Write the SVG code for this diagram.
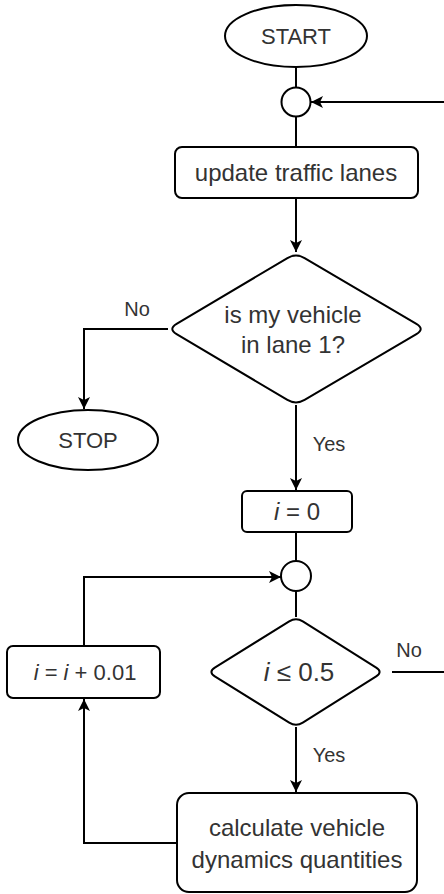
<svg xmlns="http://www.w3.org/2000/svg" width="444" height="894" viewBox="0 0 444 894">
<style>
.s{fill:#fff;stroke:#000;stroke-width:2}
.c{fill:none;stroke:#000;stroke-width:2}
.t{font-family:"Liberation Sans",Arial,sans-serif;font-size:24px;fill:#333;text-anchor:middle;dominant-baseline:central}
.T{font-family:"Liberation Sans",Arial,sans-serif;font-size:22px;fill:#333;text-anchor:middle;dominant-baseline:central}
.l{font-family:"Liberation Sans",Arial,sans-serif;font-size:20px;fill:#333;text-anchor:middle;dominant-baseline:central}
</style>
<defs>
<marker id="a" markerUnits="userSpaceOnUse" markerWidth="14" markerHeight="12" refX="12" refY="6" orient="auto">
<path d="M0,0 L12,6 L0,12 L3,6 Z" fill="#000"/>
</marker>
</defs>
<rect width="444" height="894" fill="#fff"/>
<g id="connectors">
<path class="c" d="M296,67 V88"/>
<path class="c" d="M444,102 H311" marker-end="url(#a)"/>
<path class="c" d="M296,116 V147"/>
<path class="c" d="M296,198 V252" marker-end="url(#a)"/>
<path class="c" d="M168,329 H84 V409" marker-end="url(#a)"/>
<path class="c" d="M296,405 V490" marker-end="url(#a)"/>
<path class="c" d="M296,532 V561"/>
<path class="c" d="M296,591 V617"/>
<path class="c" d="M392,672 H444"/>
<path class="c" d="M296,727 V792" marker-end="url(#a)"/>
<path class="c" d="M177,843 H84 V699" marker-end="url(#a)"/>
<path class="c" d="M84,646 V577 H281" marker-end="url(#a)"/>
</g>
<g id="labels">
<text class="l" x="137" y="309">No</text>
<text class="l" x="329" y="444">Yes</text>
<text class="l" x="409" y="650">No</text>
<text class="l" x="329" y="755">Yes</text>
</g>
<g id="start">
<ellipse class="s" cx="296" cy="36" rx="71" ry="31"/>
<text class="T" x="296" y="36">START</text>
</g>
<g id="merge1">
<circle class="s" cx="296" cy="102" r="14.5"/>
</g>
<g id="update">
<rect class="s" x="175" y="147" width="243" height="51" rx="7"/>
<text class="t" x="296" y="172">update traffic lanes</text>
</g>
<g id="decision1">
<path class="s" d="M287.4,258.1 Q296,253 304.6,258.1 L416.4,323.9 Q425,329 416.4,334.1 L304.6,399.9 Q296,405 287.4,399.9 L176.6,334.1 Q168,329 176.6,323.9 Z"/>
<text class="t" x="293" y="314">is my vehicle</text>
<text class="t" x="293" y="344">in lane 1?</text>
</g>
<g id="stop">
<ellipse class="s" cx="88" cy="440" rx="70" ry="30"/>
<text class="T" x="88" y="440">STOP</text>
</g>
<g id="init">
<rect class="s" x="242" y="491" width="110" height="41" rx="5"/>
<text class="t" x="297" y="511"><tspan font-style="italic">i</tspan> = 0</text>
</g>
<g id="merge2">
<circle class="s" cx="296" cy="576" r="15"/>
</g>
<g id="decision2">
<path class="s" d="M289.2,621.3 Q296,617 302.8,621.3 L376.2,667.7 Q383,672 376.2,676.3 L302.8,722.7 Q296,727 289.2,722.7 L214.8,676.3 Q208,672 214.8,667.7 Z"/>
<text class="t" x="299" y="672" style="font-size:26px"><tspan font-style="italic">i</tspan> ≤ 0.5</text>
</g>
<g id="increment">
<rect class="s" x="7" y="646" width="153" height="52" rx="6"/>
<text class="t" x="85" y="672" style="font-size:22px"><tspan font-style="italic">i</tspan> = <tspan font-style="italic">i</tspan> + 0.01</text>
</g>
<g id="calc">
<rect class="s" x="177" y="793" width="240" height="99" rx="12"/>
<text class="t" x="297" y="827">calculate vehicle</text>
<text class="t" x="297" y="859">dynamics quantities</text>
</g>
</svg>
